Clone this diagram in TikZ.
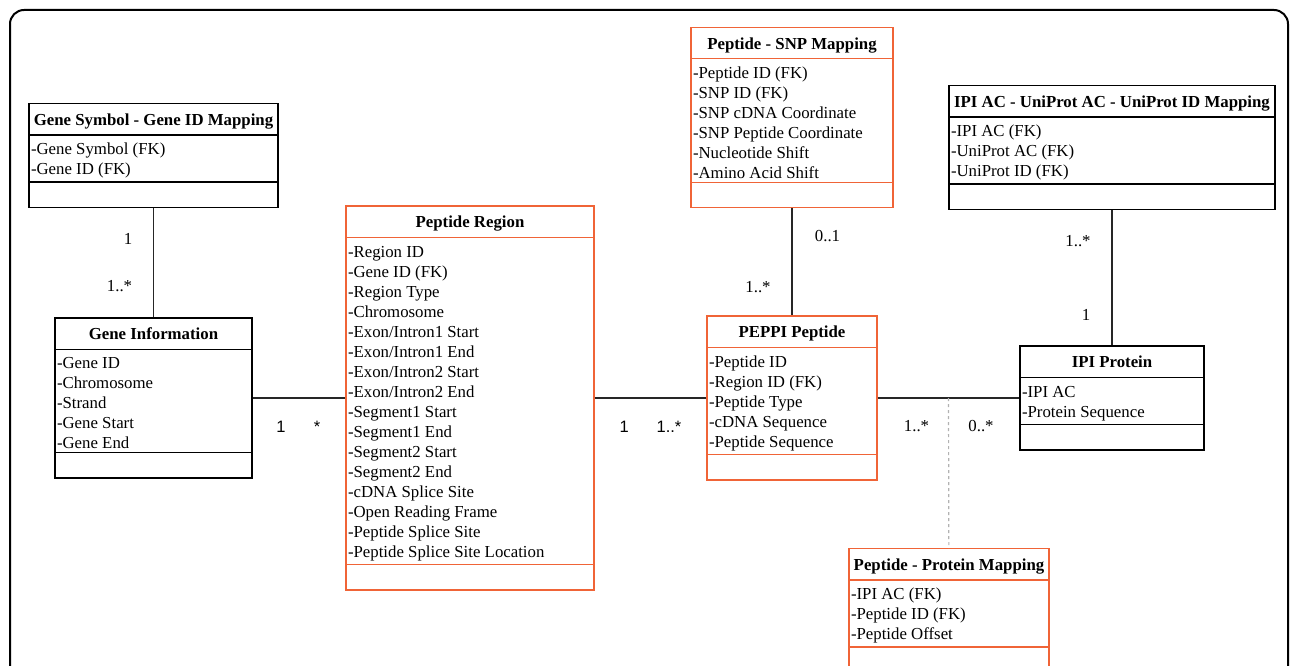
\documentclass[tikz,border=0pt]{standalone}
\usepackage{fontspec}
\setmainfont{Liberation Serif}
\newfontfamily\multsans{Liberation Sans}
\usepackage{xcolor}
\usetikzlibrary{shapes.multipart, calc, positioning}
\definecolor{umlorange}{RGB}{240,100,55}
\newcommand{\clshead}[1]{\rule[-6pt]{0pt}{24pt}\textbf{#1}}
\newcommand{\fstrow}{\rule{0pt}{16pt}}

\begin{document}
\begin{tikzpicture}[x=1pt, y=-1pt,
  umlclass/.style={rectangle split, rectangle split parts=3, draw=#1, line width=1.4pt,
                   rectangle split part align={center,left,left},
                   rectangle split empty part height=18pt,
                   align=left, inner xsep=2pt, inner ysep=3pt,
                   font=\fontsize{16.8}{20}\selectfont},
  umlclass/.default=black,
  assoc/.style={line width=1.3pt, black!85},
  mapping/.style={line width=1.2pt, gray!60, dashed},
  mult/.style={anchor=base, inner sep=0pt, font=\fontsize{16.8}{20}\selectfont},
  multsf/.style={mult, font=\multsans\fontsize{16.5}{20}\selectfont},
  frame/.style={line width=2pt, rounded corners=14pt},
]
  \useasboundingbox (0,0) rectangle (1290,666);
  \clip (0,0) rectangle (1290,666);
  \draw[frame] (10,10) rectangle (1288,720);

  % -- gene side --
  \node[umlclass, minimum width=249pt] (genesym) at (153.5,155.5)
    {\clshead{Gene Symbol - Gene ID Mapping}
     \nodepart{two}\fstrow-Gene Symbol (FK)\\-Gene ID (FK)
     \nodepart{three}};
  \node[umlclass, minimum width=197pt] (geneinfo) at (153.5,398)
    {\clshead{Gene Information}
     \nodepart{two}\fstrow-Gene ID\\-Chromosome\\-Strand\\-Gene Start\\-Gene End
     \nodepart{three}};

  % -- peptide side --
  \node[umlclass=umlorange, minimum width=248pt] (region) at (470,398)
    {\clshead{Peptide Region}
     \nodepart{two}\fstrow-Region ID\\-Gene ID (FK)\\-Region Type\\-Chromosome\\
     -Exon/Intron1 Start\\-Exon/Intron1 End\\-Exon/Intron2 Start\\-Exon/Intron2 End\\
     -Segment1 Start\\-Segment1 End\\-Segment2 Start\\-Segment2 End\\
     -cDNA Splice Site\\-Open Reading Frame\\-Peptide Splice Site\\-Peptide Splice Site Location
     \nodepart{three}};
  \node[umlclass=umlorange, minimum width=170pt] (peppi) at (792,398)
    {\clshead{PEPPI Peptide}
     \nodepart{two}\fstrow-Peptide ID\\-Region ID (FK)\\-Peptide Type\\-cDNA Sequence\\-Peptide Sequence
     \nodepart{three}};
  \node[umlclass=umlorange, minimum width=202pt] (snp) at (792,117.5)
    {\clshead{Peptide - SNP Mapping}
     \nodepart{two}\fstrow-Peptide ID (FK)\\-SNP ID (FK)\\-SNP cDNA Coordinate\\
     -SNP Peptide Coordinate\\-Nucleotide Shift\\-Amino Acid Shift
     \nodepart{three}};

  % -- protein side --
  \node[umlclass, minimum width=326pt] (ipimap) at (1112,147.5)
    {\clshead{IPI AC - UniProt AC - UniProt ID Mapping}
     \nodepart{two}\fstrow-IPI AC (FK)\\-UniProt AC (FK)\\-UniProt ID (FK)
     \nodepart{three}};
  \node[umlclass, minimum width=184pt] (ipi) at (1112,398)
    {\clshead{IPI Protein}
     \nodepart{two}\fstrow-IPI AC\\-Protein Sequence
     \nodepart{three}};
  \node[umlclass=umlorange, minimum width=200pt, anchor=north] (ppmap) at (949,548)
    {\clshead{Peptide - Protein Mapping}
     \nodepart{two}\fstrow-IPI AC (FK)\\-Peptide ID (FK)\\-Peptide Offset
     \nodepart{three}};

  % -- associations --
  \draw[assoc] (genesym) -- (geneinfo);
  \draw[assoc] (geneinfo) -- (region);
  \draw[assoc] (region) -- (peppi);
  \draw[assoc] (snp) -- (peppi);
  \draw[assoc] (ipimap) -- (ipi);
  \draw[assoc] (peppi) -- coordinate[pos=0.5] (pj) (ipi);
  \draw[mapping] (pj) -- (ppmap);

  % -- multiplicities --
  \node[mult] (m1) at (128,244) {1};
  \node[mult] (m2) at (119.5,291.7) {1..*};
  \node[multsf] (m3) at (281,432) {1};
  \node[multsf] (m4) at (317,432) {*};
  \node[multsf] (m5) at (624.3,432) {1};
  \node[multsf] (m6) at (669,432) {1..*};
  \node[mult] (m7) at (827.5,241.7) {0..1};
  \node[mult] (m8) at (758,292.7) {1..*};
  \node[mult] (m9) at (1078,246.7) {1..*};
  \node[mult] (m10) at (1086,320) {1};
  \node[mult] (m11) at (916.5,431.7) {1..*};
  \node[mult] (m12) at (981,431.7) {0..*};
\end{tikzpicture}
\end{document}
